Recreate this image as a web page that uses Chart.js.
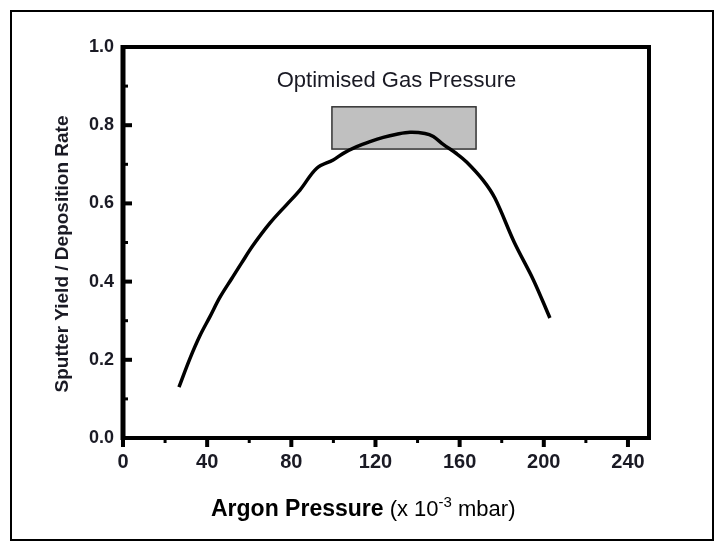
<!DOCTYPE html>
<html>
<head>
<meta charset="utf-8">
<script src="https://cdn.jsdelivr.net/npm/chart.js@4/dist/chart.umd.min.js"></script>
<style>
html,body{margin:0;padding:0;background:#fff;}
canvas{display:block;}
</style>
</head>
<body>
<canvas id="c" width="721" height="549"></canvas>
<script>
// ---- data ----
const pressure = [26.6, 31.8, 36.6, 41.4, 46.1, 51.7, 56.4, 62.0, 69.9, 77.8, 84.1, 92.1, 99.9, 104.7, 111.1, 117.4, 123.7, 130.1, 136.4, 143.5, 147.5, 152.2, 158.6, 163.3, 171.2, 176.8, 186.0, 195.0, 202.9];
const yieldRate = [0.130, 0.203, 0.262, 0.311, 0.360, 0.408, 0.448, 0.494, 0.550, 0.597, 0.634, 0.690, 0.711, 0.728, 0.745, 0.758, 0.769, 0.777, 0.782, 0.779, 0.771, 0.751, 0.727, 0.706, 0.659, 0.613, 0.500, 0.405, 0.307];
const xTicks = [0, 40, 80, 120, 160, 200, 240];
const xMinorTicks = [20, 60, 100, 140, 180, 220];
const yTicks = [0, 0.2, 0.4, 0.6, 0.8, 1.0];
const yMinorTicks = [0.1, 0.3, 0.5, 0.7, 0.9];
const boxX = [99.3, 167.8];
const boxY = [0.739, 0.847];
const boxLabel = "Optimised Gas Pressure";
const boxLabelPos = [130, 0.913];
const yTitle = "Sputter Yield / Deposition Rate";
const xTitleBold = "Argon Pressure";
const xTitleRest = " (x 10";
const xTitleSup = "-3";
const xTitleEnd = " mbar)";

const TEXT = '#1a1a24';
const FONT = '"Liberation Sans", Arial, sans-serif';

const decor = {
  id: 'decor',
  beforeDatasetsDraw(chart) {
    const ctx = chart.ctx, x = chart.scales.x, y = chart.scales.y;
    const x0 = x.getPixelForValue(boxX[0]), x1 = x.getPixelForValue(boxX[1]);
    const y0 = y.getPixelForValue(boxY[1]), y1 = y.getPixelForValue(boxY[0]);
    ctx.save();
    ctx.fillStyle = '#c0c0c0';
    ctx.fillRect(x0, y0, x1 - x0, y1 - y0);
    ctx.strokeStyle = '#333';
    ctx.lineWidth = 1.5;
    ctx.strokeRect(x0, y0, x1 - x0, y1 - y0);
    ctx.fillStyle = TEXT;
    ctx.font = '22px ' + FONT;
    ctx.textAlign = 'center';
    ctx.textBaseline = 'middle';
    ctx.fillText(boxLabel, x.getPixelForValue(boxLabelPos[0]), y.getPixelForValue(boxLabelPos[1]));
    ctx.restore();
  },
  afterDraw(chart) {
    const ctx = chart.ctx, x = chart.scales.x, y = chart.scales.y;
    const a = chart.chartArea;
    ctx.save();
    // outer border
    ctx.strokeStyle = '#000';
    ctx.lineWidth = 2;
    ctx.strokeRect(11, 11, 702, 529);
    // frame
    ctx.lineWidth = 4;
    ctx.strokeRect(a.left, a.top, a.right - a.left, a.bottom - a.top);
    ctx.lineWidth = 5;
    ctx.beginPath(); ctx.moveTo(a.left, a.top - 2); ctx.lineTo(a.left, a.bottom + 2); ctx.stroke();
    // x ticks (outward)
    ctx.lineWidth = 4;
    xTicks.forEach(v => { const p = x.getPixelForValue(v); ctx.beginPath(); ctx.moveTo(p, a.bottom); ctx.lineTo(p, a.bottom + 9); ctx.stroke(); });
    ctx.lineWidth = 3;
    xMinorTicks.forEach(v => { const p = x.getPixelForValue(v); ctx.beginPath(); ctx.moveTo(p, a.bottom); ctx.lineTo(p, a.bottom + 5); ctx.stroke(); });
    // y ticks (inward)
    ctx.lineWidth = 4;
    yTicks.forEach(v => { const p = y.getPixelForValue(v); ctx.beginPath(); ctx.moveTo(a.left, p); ctx.lineTo(a.left + 9, p); ctx.stroke(); });
    ctx.lineWidth = 3;
    yMinorTicks.forEach(v => { const p = y.getPixelForValue(v); ctx.beginPath(); ctx.moveTo(a.left, p); ctx.lineTo(a.left + 5, p); ctx.stroke(); });
    // y title
    ctx.fillStyle = TEXT;
    ctx.font = 'bold 19px ' + FONT;
    ctx.translate(63, 254);
    ctx.rotate(-Math.PI / 2);
    ctx.textAlign = 'center';
    ctx.textBaseline = 'middle';
    ctx.fillText(yTitle, 0, 0);
    ctx.restore();
    // x title
    ctx.save();
    ctx.fillStyle = '#000';
    ctx.textBaseline = 'alphabetic';
    ctx.textAlign = 'left';
    let px = 211; const base = 516;
    ctx.font = 'bold 23px ' + FONT;
    ctx.fillText(xTitleBold, px, base); px += ctx.measureText(xTitleBold).width;
    ctx.font = '22px ' + FONT;
    ctx.fillText(xTitleRest, px, base); px += ctx.measureText(xTitleRest).width;
    ctx.font = '15px ' + FONT;
    ctx.fillText(xTitleSup, px, base - 9); px += ctx.measureText(xTitleSup).width;
    ctx.font = '22px ' + FONT;
    ctx.fillText(xTitleEnd, px, base);
    ctx.restore();
  }
};

new Chart(document.getElementById('c'), {
  type: 'line',
  data: {
    datasets: [{
      data: pressure.map((p, i) => ({ x: p, y: yieldRate[i] })),
      borderColor: '#000',
      borderWidth: 3.5,
      pointRadius: 0,
      tension: 0.35,
      fill: false
    }]
  },
  options: {
    responsive: false,
    devicePixelRatio: 1,
    animation: false,
    plugins: { legend: { display: false }, tooltip: { enabled: false } },
    layout: { padding: { left: 0, right: 72, top: 47, bottom: 0 } },
    scales: {
      x: {
        type: 'linear', min: 0, max: 250,
        afterFit: s => { s.height = 111; },
        afterBuildTicks: s => { s.ticks = xTicks.map(v => ({ value: v })); },
        grid: { display: false, drawTicks: false },
        border: { display: false },
        ticks: { padding: 12, color: TEXT, font: { family: FONT, size: 20, weight: 'bold' }, maxRotation: 0, autoSkip: false }
      },
      y: {
        type: 'linear', min: 0, max: 1,
        afterFit: s => { s.width = 123; },
        afterBuildTicks: s => { s.ticks = yTicks.map(v => ({ value: v })); },
        grid: { display: false, drawTicks: false },
        border: { display: false },
        ticks: { padding: 9, color: TEXT, font: { family: FONT, size: 18, weight: 'bold' }, callback: v => Number(v).toFixed(1) }
      }
    }
  },
  plugins: [decor]
});
</script>
</body>
</html>
